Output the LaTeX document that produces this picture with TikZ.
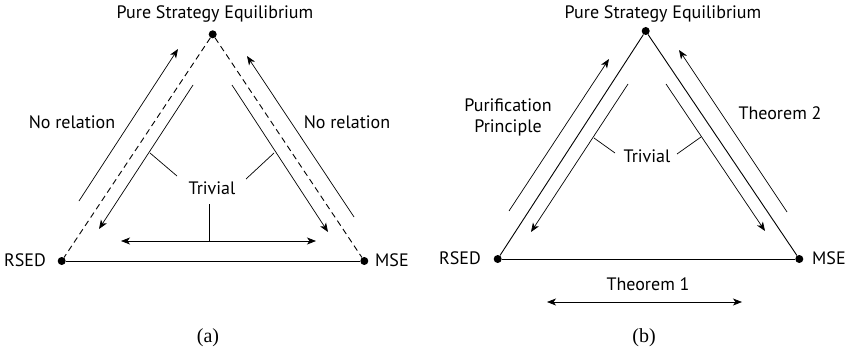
\documentclass[tikz,border=0pt]{standalone}
\usepackage{fontspec}
\newfontfamily\lblfont{PT Sans}
\newfontfamily\capfont{Liberation Serif}
\usetikzlibrary{arrows.meta}
\begin{document}
\begin{tikzpicture}[x=1pt,y=-1pt,
  dot/.style={circle,fill=black,inner sep=0pt,minimum size=8pt},
  lbl/.style={font=\lblfont\fontsize{18}{21}\selectfont,inner sep=1pt,align=center},
  captxt/.style={font=\capfont\fontsize{20}{23}\selectfont,inner sep=0pt},
  sideline/.style={line width=0.9pt},
  dsideline/.style={line width=0.9pt,dash pattern=on 6pt off 4pt},
  arr/.style={line width=0.7pt,-{Stealth[length=9pt,width=7pt,inset=2.5pt]}},
  darr/.style={line width=0.7pt,{Stealth[length=9pt,width=7pt,inset=2.5pt]}-{Stealth[length=9pt,width=7pt,inset=2.5pt]}},
  ticky/.style={line width=0.7pt}]
\useasboundingbox (0,0) rectangle (851,353);
% ---------- panel (a) ----------
\node[dot] (aT) at (212.7,34.3) {};
\node[dot] (aR) at (61.7,261) {};
\node[dot] (aM) at (364.3,261) {};
\node[lbl] (aTl) at (215,14) {Pure Strategy Equilibrium};
\node[lbl,anchor=east] (aRl) at (47,260) {RSED};
\node[lbl,anchor=west] (aMl) at (374,260) {MSE};
\draw[dsideline] (aT) -- (aR);
\draw[dsideline] (aT) -- (aM);
\draw[sideline] (aR) -- (aM);
\coordinate (a1s) at (79,201); \coordinate (a1e) at (178,49);
\coordinate (a2s) at (193,85); \coordinate (a2e) at (99,229);
\coordinate (a3s) at (232,85); \coordinate (a3e) at (328,232);
\coordinate (a4s) at (354,217); \coordinate (a4e) at (247,56);
\draw[arr] (a1s) -- (a1e);
\draw[arr] (a2s) -- (a2e);
\draw[arr] (a3s) -- (a3e);
\draw[arr] (a4s) -- (a4e);
\coordinate (a5s) at (121,241); \coordinate (a5e) at (316,241);
\draw[darr] (a5s) -- (a5e);
\node[lbl] (aNL) at (72,122) {No relation};
\node[lbl] (aNR) at (347,122) {No relation};
\node[lbl] (aTr) at (212,188) {Trivial};
\coordinate (at1a) at (150,153); \coordinate (at1b) at (177,176);
\coordinate (at2a) at (274,153); \coordinate (at2b) at (246,179);
\coordinate (at3a) at (209,204); \coordinate (at3b) at (209,241);
\draw[ticky] (at1a) -- (at1b);
\draw[ticky] (at2a) -- (at2b);
\draw[ticky] (at3a) -- (at3b);
\node[captxt] (aCap) at (208,338) {(a)};
% ---------- panel (b) ----------
\node[dot] (bT) at (645.7,31) {};
\node[dot] (bR) at (497.7,259) {};
\node[dot] (bM) at (799.3,259) {};
\node[lbl] (bTl) at (663,14) {Pure Strategy Equilibrium};
\node[lbl,anchor=east] (bRl) at (482,258) {RSED};
\node[lbl,anchor=west] (bMl) at (811,258) {MSE};
\draw[sideline] (bT) -- (bR);
\draw[sideline] (bT) -- (bM);
\draw[sideline] (bR) -- (bM);
\coordinate (b1s) at (509,211); \coordinate (b1e) at (609,59);
\coordinate (b2s) at (628,84); \coordinate (b2e) at (531,232);
\coordinate (b3s) at (666,84); \coordinate (b3e) at (765,231);
\coordinate (b4s) at (787,212); \coordinate (b4e) at (679,50);
\draw[arr] (b1s) -- (b1e);
\draw[arr] (b2s) -- (b2e);
\draw[arr] (b3s) -- (b3e);
\draw[arr] (b4s) -- (b4e);
\coordinate (b5s) at (547,302); \coordinate (b5e) at (742,302);
\draw[darr] (b5s) -- (b5e);
\node[lbl] (bPP) at (508,117) {Purification\\Principle};
\node[lbl] (bT2) at (780,113) {Theorem 2};
\node[lbl] (bT1) at (648,284) {Theorem 1};
\node[lbl] (bTr) at (647,156) {Trivial};
\coordinate (bt1a) at (594,138); \coordinate (bt1b) at (615,153);
\coordinate (bt2a) at (701,137); \coordinate (bt2b) at (677,154);
\draw[ticky] (bt1a) -- (bt1b);
\draw[ticky] (bt2a) -- (bt2b);
\node[captxt] (bCap) at (644,338) {(b)};
\end{tikzpicture}
\end{document}
